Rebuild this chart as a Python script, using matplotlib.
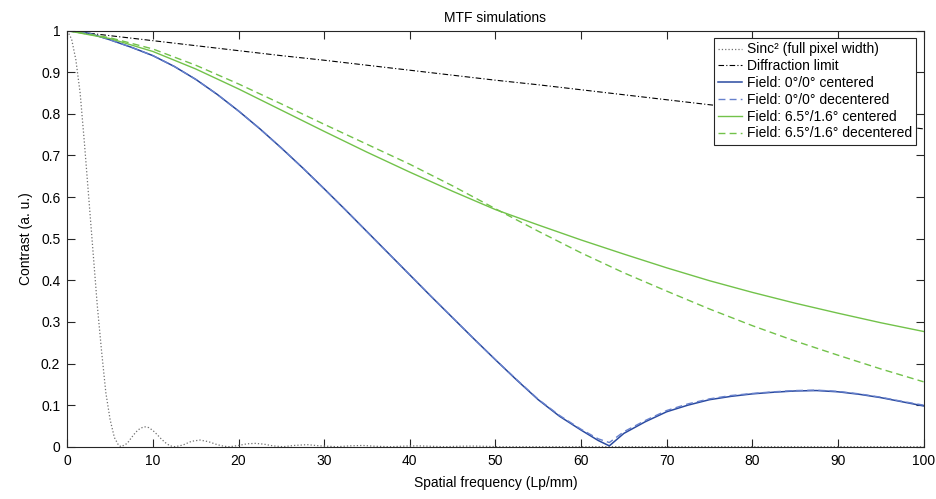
import matplotlib
matplotlib.use("Agg")
import matplotlib.pyplot as plt

plt.rcParams['font.family'] = ['Liberation Sans', 'DejaVu Sans']
plt.rcParams['font.size'] = 10

# curves (spatial frequency in Lp/mm -> contrast)
freq = [0, 5, 10, 15, 20, 25, 30, 35, 40, 45, 50,
        55, 60, 65, 70, 75, 80, 85, 90, 95, 100]

diffraction = [1.0, 0.988, 0.976, 0.964, 0.952, 0.940, 0.929, 0.917, 0.905, 0.893, 0.881,
               0.870, 0.858, 0.846, 0.834, 0.822, 0.811, 0.799, 0.787, 0.775, 0.764]

green_centered = [1.0, 0.981, 0.950, 0.908, 0.860, 0.809, 0.758, 0.708, 0.660, 0.614, 0.570,
                  0.533, 0.497, 0.463, 0.430, 0.399, 0.371, 0.345, 0.321, 0.298, 0.277]

green_decentered = [1.0, 0.983, 0.956, 0.917, 0.872, 0.824, 0.775, 0.727, 0.679, 0.627, 0.572,
                    0.518, 0.466, 0.418, 0.374, 0.331, 0.291, 0.254, 0.220, 0.187, 0.156]

freq_blue = [0, 2.5, 5, 7.5, 10, 12.5, 15, 17.5, 20, 22.5, 25, 27.5, 30, 32.5, 35,
             37.5, 40, 42.5, 45, 47.5, 50, 52.5, 55, 57.5, 60, 62, 63.3,
             65, 67.5, 70, 72.5, 75, 77.5, 80, 82.5, 85, 87.5, 90, 92.5, 95, 97.5, 100]
blue_centered = [1.0, 0.994, 0.978, 0.960, 0.940, 0.914, 0.883, 0.847, 0.807, 0.764, 0.718,
                 0.670, 0.620, 0.569, 0.517, 0.465, 0.413, 0.361, 0.310, 0.259, 0.209,
                 0.160, 0.113, 0.073, 0.040, 0.015, 0.002,
                 0.032, 0.060, 0.084, 0.100, 0.113, 0.121, 0.127, 0.131, 0.134, 0.135,
                 0.132, 0.126, 0.118, 0.108, 0.098]
blue_decentered = [1.0, 0.994, 0.978, 0.960, 0.940, 0.914, 0.883, 0.847, 0.807, 0.764, 0.718,
                   0.670, 0.620, 0.569, 0.517, 0.465, 0.413, 0.361, 0.310, 0.259, 0.209,
                   0.161, 0.114, 0.075, 0.042, 0.019, 0.010,
                   0.036, 0.063, 0.087, 0.103, 0.115, 0.123, 0.128, 0.132, 0.135, 0.136,
                   0.133, 0.127, 0.119, 0.109, 0.100]

freq_sinc = [0, 0.5, 1.0, 1.5, 2.0, 2.5, 3.0, 3.5, 4.0, 4.5, 5.0, 5.5, 6.0, 6.3,
             7.0, 7.5, 8.0, 8.5, 9.0, 9.5, 10.0, 10.5, 11.0, 11.5, 12.0, 12.6,
             13.5, 14.5, 15.5, 16.5, 17.5, 18.3, 19.0, 20, 21, 22, 23, 24, 25.2,
             26.5, 28, 29.5, 31.5, 33, 34.5, 36, 37.8, 39.5, 41, 42.5, 44.1,
             46, 47.5, 49, 50.4, 60, 70, 80, 90, 100]
sinc2 = [1.0, 0.98, 0.93, 0.85, 0.73, 0.60, 0.47, 0.34, 0.23, 0.13, 0.065, 0.022, 0.003, 0.0,
         0.008, 0.022, 0.035, 0.044, 0.048, 0.046, 0.039, 0.029, 0.018, 0.009, 0.002, 0.0,
         0.004, 0.013, 0.016, 0.012, 0.005, 0.001, 0.0, 0.003, 0.007, 0.008, 0.006, 0.002, 0.0,
         0.003, 0.005, 0.002, 0.0, 0.002, 0.003, 0.001, 0.0, 0.0015, 0.002, 0.001, 0.0,
         0.0012, 0.0015, 0.0008, 0.0, 0.0, 0.0, 0.0, 0.0, 0.0]

fig = plt.figure(figsize=(9.36, 4.99), dpi=100)
ax = fig.add_axes([0.0719, 0.1048, 0.9148, 0.8337])

ax.plot(freq_sinc, sinc2, color="#707070", linestyle=":", linewidth=0.9,
        label="Sinc² (full pixel width)")
ax.plot(freq, diffraction, color="black", linewidth=0.8, dashes=(5, 2, 1, 2),
        label="Diffraction limit")
ax.plot(freq_blue, blue_centered, color="#2a4aa0", linewidth=1.1,
        label="Field: 0°/0° centered")
ax.plot(freq_blue, blue_decentered, color="#6680cc", linewidth=1.0, dashes=(5, 3),
        label="Field: 0°/0° decentered")
ax.plot(freq, green_centered, color="#72c24a", linewidth=1.0,
        label="Field: 6.5°/1.6° centered")
ax.plot(freq, green_decentered, color="#72c24a", linewidth=1.0, dashes=(5, 3),
        label="Field: 6.5°/1.6° decentered")

ax.set_xlim(0, 100)
ax.set_ylim(0, 1)
ax.set_xticks(range(0, 101, 10))
ax.set_yticks([i / 10 for i in range(11)])
ax.set_yticklabels(["0", "0.1", "0.2", "0.3", "0.4", "0.5", "0.6", "0.7", "0.8", "0.9", "1"])
ax.tick_params(direction="in", length=6, width=0.8, top=True, right=True,
               colors="#262626", labelcolor="black", pad=5)
for sp in ax.spines.values():
    sp.set_color("#262626")
    sp.set_linewidth(0.8)

ax.set_title("MTF simulations", fontsize=10, pad=6)
ax.set_xlabel("Spatial frequency (Lp/mm)", labelpad=6)
ax.set_ylabel("Contrast (a. u.)", labelpad=6)

leg = ax.legend(loc="upper right", fontsize=10, frameon=True, fancybox=False,
                handlelength=1.7, handletextpad=0.35, labelspacing=0.2,
                borderpad=0.3, borderaxespad=0.55, framealpha=1)
leg.get_frame().set_edgecolor("#262626")
leg.get_frame().set_linewidth(0.8)

fig.savefig("out.png", dpi=100)
